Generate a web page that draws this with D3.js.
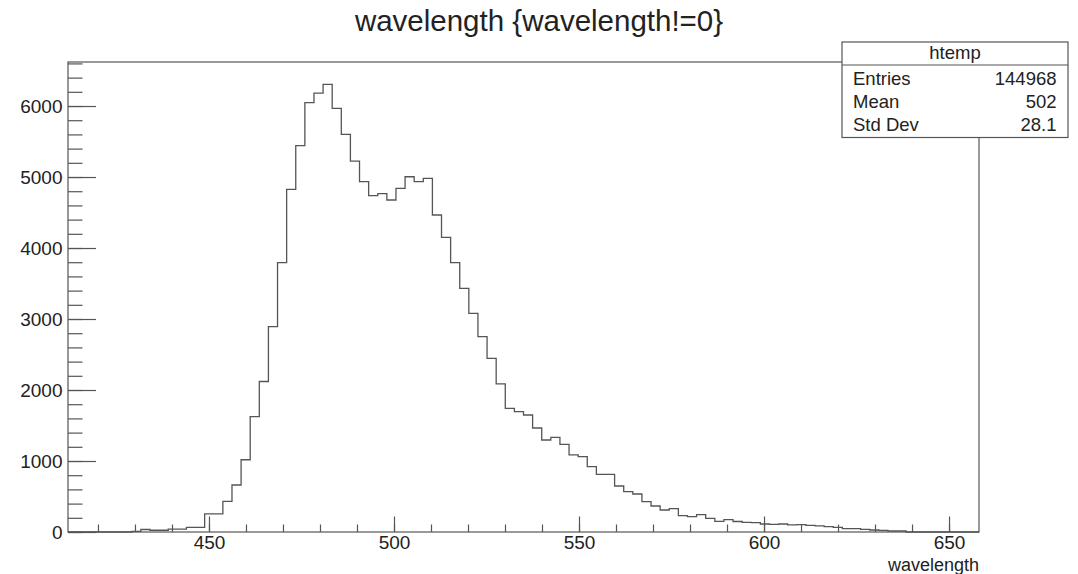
<!DOCTYPE html>
<html>
<head>
<meta charset="utf-8">
<script src="https://cdn.jsdelivr.net/npm/d3@7"></script>
<style>
  body { margin: 0; background: #fff; }
  svg { display: block; font-family: "Liberation Sans", Helvetica, Arial, sans-serif; }
  .axis text { fill: #222; font-size: 19px; }
  .axis line { stroke: #555; }
</style>
</head>
<body>
<svg id="chart" width="1078" height="574"></svg>
<script>
// histogram htemp: 100 bins between xMin and xMax
var xMin = 411.9,
  xMax = 658.1;

var binCounts = [
  0, 0, 0, 0, 0, 0, 0, 10, 35, 25,
  25, 40, 40, 65, 65, 255, 255, 432, 662, 1018,
  1624, 2120, 2892, 3793, 4827, 5441, 6047, 6183, 6305, 5967,
  5601, 5225, 4934, 4737, 4765, 4676, 4840, 5004, 4934, 4981,
  4465, 4150, 3793, 3432, 3080, 2751, 2446, 2085, 1742, 1695,
  1648, 1465, 1296, 1332, 1235, 1085, 1061, 920, 812, 812,
  648, 568, 535, 427, 366, 310, 329, 230, 216, 244,
  193, 150, 175, 148, 136, 131, 113, 108, 113, 99,
  103, 94, 85, 75, 66, 47, 47, 38, 28, 24,
  14, 14, 0, 0, 0, 0, 0, 0, 0, 0
];

var yMax = 6620;
var xMajorTicks = [450, 500, 550, 600, 650];
var xMinorTicks = d3.range(420, 651, 10);
var yMajorTicks = [0, 1000, 2000, 3000, 4000, 5000, 6000];
var yMinorTicks = d3.range(0, 6601, 200);

var titleText = "wavelength {wavelength!=0}";
var xTitle = "wavelength";
var statsName = "htemp";
var statsLabels = ["Entries", "Mean", "Std Dev"];
var statsValues = ["144968", "502", "28.1"];

var svg = d3.select("#chart");
var margin = {top: 62, right: 99, bottom: 42, left: 68};
var width = 1078 - margin.left - margin.right,
  height = 574 - margin.top - margin.bottom;
var lineColor = "#555";

var x = d3.scaleLinear().domain([xMin, xMax]).range([0, width]);
var y = d3.scaleLinear().domain([0, yMax]).range([height, 0]);

var g = svg.append("g")
  .attr("transform", "translate(" + margin.left + "," + margin.top + ")");

// title
svg.append("text")
  .attr("x", 539)
  .attr("y", 31)
  .attr("text-anchor", "middle")
  .attr("font-size", 29.5)
  .attr("fill", "#222")
  .text(titleText);

// frame
g.append("rect")
  .attr("width", width)
  .attr("height", height)
  .attr("fill", "none")
  .attr("stroke", lineColor)
  .attr("stroke-width", 1.2);

// histogram outline
var binWidth = (xMax - xMin) / binCounts.length;
var pts = binCounts.map(function(c, i) { return [xMin + i * binWidth, c]; });
pts.push([xMax, binCounts[binCounts.length - 1]]);

var line = d3.line()
  .x(function(d) { return x(d[0]); })
  .y(function(d) { return y(d[1]); })
  .curve(d3.curveStepAfter);

g.append("path")
  .datum(pts)
  .attr("fill", "none")
  .attr("stroke", lineColor)
  .attr("stroke-width", 1.3)
  .attr("d", line);

// axes, ticks pointing inward like ROOT
function addAxis(axis, cls, transform) {
  var a = g.append("g")
    .attr("class", "axis " + cls)
    .attr("transform", transform)
    .call(axis);
  a.select(".domain").remove();
  a.selectAll("line").attr("stroke-width", 1.2);
  return a;
}

addAxis(d3.axisBottom(x).tickValues(xMinorTicks).tickSize(-7.5).tickFormat(""),
  "x minor", "translate(0," + height + ")");
addAxis(d3.axisBottom(x).tickValues(xMajorTicks).tickSize(-15.5).tickPadding(4).tickFormat(d3.format("d")),
  "x major", "translate(0," + height + ")");
addAxis(d3.axisLeft(y).tickValues(yMinorTicks).tickSize(-14.5).tickFormat(""),
  "y minor", "translate(0,0)");
addAxis(d3.axisLeft(y).tickValues(yMajorTicks).tickSize(-28).tickPadding(5.5).tickFormat(d3.format("d")),
  "y major", "translate(0,0)");

// axis title
svg.append("text")
  .attr("x", margin.left + width)
  .attr("y", 570.5)
  .attr("text-anchor", "end")
  .attr("font-size", 18)
  .attr("fill", "#222")
  .text(xTitle);

// stats box
var box = {x: 842, y: 42, w: 226, h: 95.5, head: 23};
var stats = svg.append("g");
stats.append("rect")
  .attr("x", box.x).attr("y", box.y)
  .attr("width", box.w).attr("height", box.h)
  .attr("fill", "#fff")
  .attr("stroke", lineColor)
  .attr("stroke-width", 1.2);
stats.append("line")
  .attr("x1", box.x).attr("x2", box.x + box.w)
  .attr("y1", box.y + box.head).attr("y2", box.y + box.head)
  .attr("stroke", lineColor)
  .attr("stroke-width", 1.2);
stats.append("text")
  .attr("x", box.x + box.w / 2)
  .attr("y", 58.5)
  .attr("text-anchor", "middle")
  .attr("font-size", 18.5)
  .attr("fill", "#222")
  .text(statsName);

statsLabels.forEach(function(lbl, i) {
  var by = 84.5 + i * 23;
  stats.append("text")
    .attr("x", box.x + 11)
    .attr("y", by)
    .attr("font-size", 18.5)
    .attr("fill", "#222")
    .text(lbl);
  stats.append("text")
    .attr("x", box.x + box.w - 11.5)
    .attr("y", by)
    .attr("text-anchor", "end")
    .attr("font-size", 18.5)
    .attr("fill", "#222")
    .text(statsValues[i]);
});
</script>
</body>
</html>
